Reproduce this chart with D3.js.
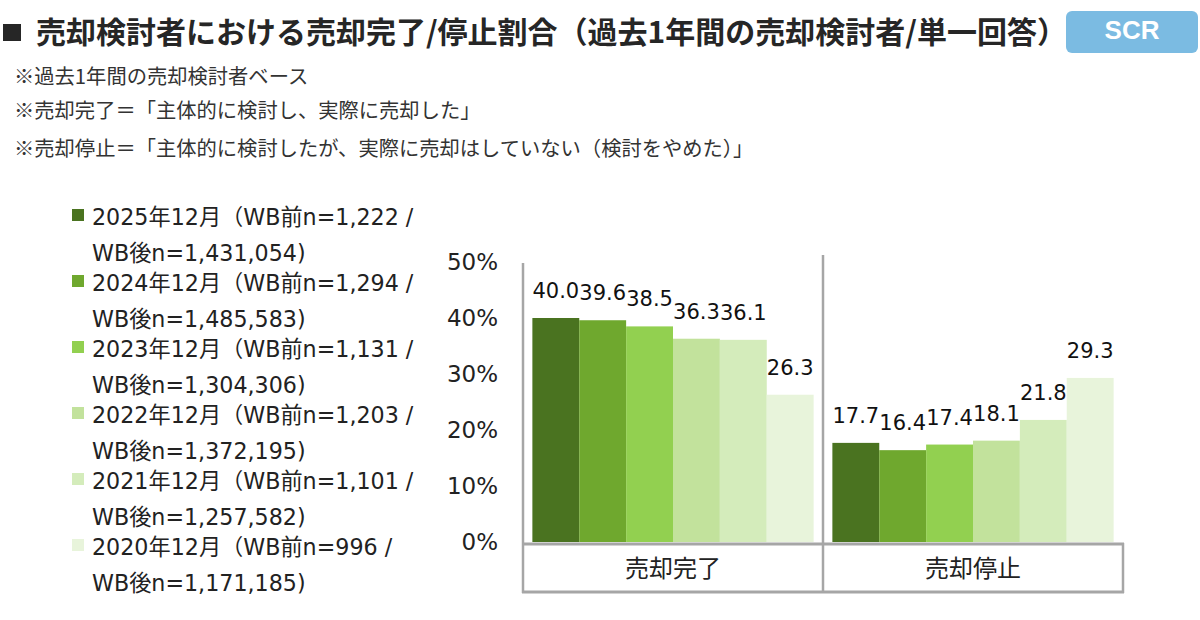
<!DOCTYPE html>
<html>
<head>
<meta charset="utf-8">
<script src="https://cdn.jsdelivr.net/npm/d3@7"></script>
<style>
  body { margin: 0; background: #fff; }
  svg text { font-family: "DejaVu Sans", "Noto Sans CJK JP", sans-serif; fill: #222; }
</style>
</head>
<body>
<div id="graph"></div>
<script>
var categories = ['売却完了', '売却停止']
var years = ['2025年12月', '2024年12月', '2023年12月', '2022年12月', '2021年12月', '2020年12月']
var legendLine1 = ['2025年12月（WB前n=1,222 /', '2024年12月（WB前n=1,294 /', '2023年12月（WB前n=1,131 /',
  '2022年12月（WB前n=1,203 /', '2021年12月（WB前n=1,101 /', '2020年12月（WB前n=996 /']
var legendLine2 = ['WB後n=1,431,054)', 'WB後n=1,485,583)', 'WB後n=1,304,306)',
  'WB後n=1,372,195)', 'WB後n=1,257,582)', 'WB後n=1,171,185)']
var completed = [40.0, 39.6, 38.5, 36.3, 36.1, 26.3]
var stopped = [17.7, 16.4, 17.4, 18.1, 21.8, 29.3]
var yTicks = [0, 10, 20, 30, 40, 50]
var colors = ['#4a7320', '#6fa82e', '#92d050', '#c2e29c', '#d4ecbb', '#e8f4db']
var notes = ['※過去1年間の売却検討者ベース',
  '※売却完了＝「主体的に検討し、実際に売却した」',
  '※売却停止＝「主体的に検討したが、実際に売却はしていない（検討をやめた）」']

var W = 1200, H = 620
var svg = d3.select('#graph').append('svg').attr('width', W).attr('height', H)

// header
svg.append('rect').attr('x', 3).attr('y', 24).attr('width', 18).attr('height', 17).attr('fill', '#262626')
svg.append('text')
    .attr('x', 36).attr('y', 43)
    .style('font-family', '"Noto Sans CJK JP", sans-serif')
    .style('font-weight', 'bold').style('font-size', '30px').style('fill', '#262626')
    .text('売却検討者における売却完了/停止割合（過去1年間の売却検討者/単一回答）')

svg.append('rect').attr('x', 1066).attr('y', 11).attr('width', 132).attr('height', 42)
    .attr('rx', 6).attr('fill', '#7bbbe2')
svg.append('text')
    .attr('x', 1132).attr('y', 39).attr('text-anchor', 'middle')
    .style('font-family', '"Liberation Sans", Arial, sans-serif')
    .style('font-weight', 'bold').style('font-size', '26px').style('fill', '#fff')
    .text('SCR')

svg.selectAll('text.note').data(notes).enter().append('text')
    .attr('class', 'note')
    .attr('x', 14).attr('y', function(d, i){ return [84, 118, 156][i] })
    .style('font-family', '"Noto Sans CJK JP", sans-serif')
    .style('font-size', '20.3px').style('fill', '#333')
    .text(function(d){ return d })

// legend
var legend = svg.selectAll('g.legend').data(years).enter().append('g')
    .attr('class', 'legend')
    .attr('transform', function(d, i){ return 'translate(0,' + (217 + i * 66) + ')' })

legend.append('rect')
    .attr('x', 72).attr('y', -8).attr('width', 12).attr('height', 12)
    .attr('fill', function(d, i){ return colors[i] })

legend.append('text')
    .attr('x', 92).attr('y', 0).attr('dy', '0.36em')
    .style('font-size', '22.2px')
    .text(function(d, i){ return legendLine1[i] })

legend.append('text')
    .attr('x', 92).attr('y', 36).attr('dy', '0.36em')
    .style('font-size', '22.2px')
    .text(function(d, i){ return legendLine2[i] })

// chart
var x0 = d3.scaleBand().domain(categories).range([523, 1123])
var x1 = d3.scaleBand().domain(years).range([0, x0.bandwidth()]).paddingOuter(0.2)
var y = d3.scaleLinear().domain([0, 50]).range([542, 262])

svg.selectAll('text.ytick').data(yTicks).enter().append('text')
    .attr('class', 'ytick')
    .attr('x', 498).attr('y', function(d){ return y(d) }).attr('dy', '0.36em')
    .attr('text-anchor', 'end')
    .style('font-size', '23px')
    .text(function(d){ return d + '%' })

var series = [completed, stopped]
var groups = svg.selectAll('g.cat').data(categories).enter().append('g')
    .attr('class', 'cat')
    .attr('transform', function(d){ return 'translate(' + x0(d) + ',0)' })

groups.selectAll('rect').data(function(d, i){ return series[i] }).enter().append('rect')
    .attr('x', function(d, i){ return x1(years[i]) })
    .attr('width', x1.bandwidth())
    .attr('y', function(d){ return y(d) })
    .attr('height', function(d){ return y(0) - y(d) })
    .attr('fill', function(d, i){ return colors[i] })

groups.selectAll('text.val').data(function(d, i){ return series[i] }).enter().append('text')
    .attr('class', 'val')
    .attr('x', function(d, i){ return x1(years[i]) + x1.bandwidth() / 2 })
    .attr('y', function(d){ return y(d) - 20 })
    .attr('text-anchor', 'middle')
    .style('font-size', '21px').style('fill', '#111')
    .text(function(d){ return d.toFixed(1) })

// frame lines
var line = '#a6a6a6'
svg.append('line').attr('x1', 523).attr('x2', 523).attr('y1', 263).attr('y2', 593)
    .attr('stroke', line).attr('stroke-width', 2.5)
svg.append('line').attr('x1', x0('売却停止')).attr('x2', x0('売却停止')).attr('y1', 255).attr('y2', 593)
    .attr('stroke', line).attr('stroke-width', 2.5)
svg.append('line').attr('x1', 1123).attr('x2', 1123).attr('y1', 543).attr('y2', 593)
    .attr('stroke', line).attr('stroke-width', 2.5)
svg.append('line').attr('x1', 522).attr('x2', 1124).attr('y1', 544).attr('y2', 544)
    .attr('stroke', line).attr('stroke-width', 3)
svg.append('line').attr('x1', 522).attr('x2', 1124).attr('y1', 592).attr('y2', 592)
    .attr('stroke', line).attr('stroke-width', 3)

svg.selectAll('text.cat').data(categories).enter().append('text')
    .attr('class', 'cat')
    .attr('x', function(d){ return x0(d) + x0.bandwidth() / 2 })
    .attr('y', 568).attr('dy', '0.36em')
    .attr('text-anchor', 'middle')
    .style('font-family', '"Noto Sans CJK JP", sans-serif')
    .style('font-size', '24px').style('fill', '#222')
    .text(function(d){ return d })
</script>
</body>
</html>
